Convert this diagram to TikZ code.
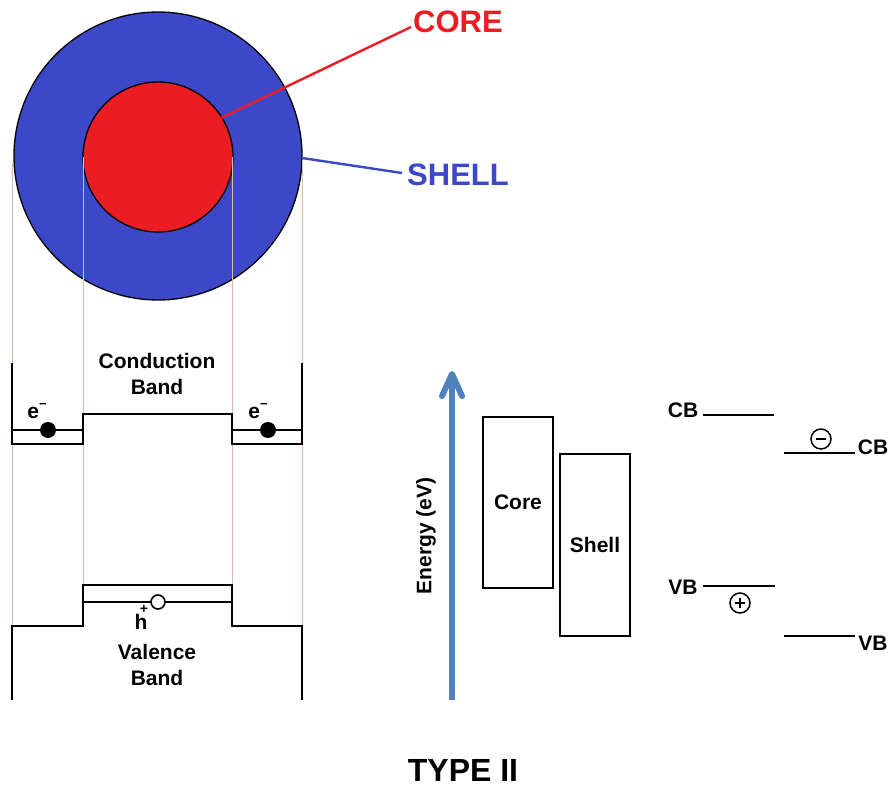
\documentclass[tikz,border=0pt]{standalone}
\usepackage{fontspec}
\setmainfont{Liberation Sans}
\definecolor{shellblue}{HTML}{3C48C8}
\definecolor{corered}{HTML}{EC1C24}
\definecolor{guide}{HTML}{E2BBA8}
\definecolor{arrowblue}{HTML}{4F81BD}
\tikzset{
  lbl/.style={font=\fontsize{21}{26}\selectfont\bfseries, inner sep=0pt, align=center},
  sup/.style={font=\fontsize{14}{14}\selectfont\bfseries, inner sep=0pt},
  biglbl/.style={font=\fontsize{31}{36}\selectfont\bfseries, inner sep=0pt},
  band/.style={line width=2.2pt, black, line join=miter},
  guideline/.style={guide, line width=0.8pt},
  level/.style={line width=1.8pt, black},
  bandbox/.style={draw=black, line width=1.6pt, minimum width=70pt, inner sep=0pt, font=\fontsize{21}{26}\selectfont\bfseries},
  electron/.style={circle, fill=black, minimum size=16pt, inner sep=0pt},
  hole/.style={circle, draw=black, fill=white, line width=1.6pt, minimum size=14pt, inner sep=0pt},
  carrier/.style={circle, draw=black, line width=1.5pt, minimum size=20pt, inner sep=0pt},
}
\begin{document}
\begin{tikzpicture}[x=1pt,y=-1pt]
\useasboundingbox (0,0) rectangle (891,789);
% particle
\fill[shellblue, draw=black, line width=1.3pt] (158,156) circle (144);
\fill[corered, draw=black, line width=1.3pt] (158,157) circle (75);
% guide lines
\foreach \gx/\gy/\gz in {12/163/626, 83/157/585, 232/157/585, 302/160/626}
  \draw[guideline] (\gx,\gy) -- (\gx,\gz);
% labels of particle
\node[biglbl, text=corered, anchor=west] (corelbl) at (413,22) {CORE};
\node[biglbl, text=shellblue, anchor=west] (shelllbl) at (407,175) {SHELL};
\coordinate (coreend) at (221,118);
\coordinate (shellend) at (302,158);
\draw[corered, line width=2.4pt] (corelbl.west) ++(-2,5) -- (coreend);
\draw[shellblue, line width=2.4pt] (shelllbl.west) ++(-5,-2) -- (shellend);
% conduction band
\draw[band] (12,363) -- (12,444) -- (83,444) -- (83,414) -- (232,414) -- (232,444) -- (302,444) -- (302,363);
\draw[band] (12,430) -- (83,430);
\draw[band] (232,430) -- (302,430);
\node[lbl] (cbtext) at (157,374) {Conduction\\Band};
\node[electron] (e1) at (48,430) {};
\node[electron] (e2) at (268,430) {};
\node[lbl] (e1l) at (37,411) {e\raisebox{0.45em}{\fontsize{13}{13}\selectfont −}};
\node[lbl] (e2l) at (258,411) {e\raisebox{0.45em}{\fontsize{13}{13}\selectfont −}};
% valence band
\draw[band] (12,700) -- (12,626) -- (83,626) -- (83,585) -- (232,585) -- (232,626) -- (302,626) -- (302,700);
\draw[band] (83,602) -- (232,602);
\node[hole] (h) at (158,602) {};
\node[lbl] (hl) at (141,622) {h};
\node[sup, anchor=south] (hplus) at ([xshift=3pt]hl.north) {+};
\node[lbl] (vbtext) at (157,665) {Valence\\Band};
% energy axis
\coordinate (axisbot) at (452,700);
\coordinate (axistop) at (452,374);
\draw[arrowblue, line width=6pt] (axisbot) -- (axistop);
\draw[arrowblue, line width=6pt, line cap=round, line join=round] (442,396) -- (axistop) -- (462,396);
\node[lbl, rotate=90] (energy) at (426,536) {Energy (eV)};
% core / shell boxes
\node[bandbox, minimum height=171pt] (corebox) at (518,502.5) {Core};
\node[bandbox, minimum height=182pt] (shellbox) at (595,545) {Shell};
% level diagram
\node[lbl] (cb1) at (683,410) {CB};
\coordinate (cb1a) at (703,415);
\coordinate (cb1b) at (774,415);
\draw[level] (cb1a) -- (cb1b);
\coordinate (cb2a) at (784,453);
\coordinate (cb2b) at (855,453);
\draw[level] (cb2a) -- (cb2b);
\node[lbl] (cb2) at (873,447) {CB};
\node[carrier] (minus) at (821,439) {};
\draw[line width=1.8pt] (minus.center) ++(-5,0) -- ++(10,0);
\node[lbl] (vb1) at (683,587) {VB};
\coordinate (vb1a) at (703,586);
\coordinate (vb1b) at (775,586);
\draw[level] (vb1a) -- (vb1b);
\node[carrier] (plus) at (740,603) {};
\draw[line width=1.8pt] (plus.center) ++(-5,0) -- ++(10,0) (plus.center) ++(0,-5) -- ++(0,10);
\coordinate (vb2a) at (784,636);
\coordinate (vb2b) at (855,636);
\draw[level] (vb2a) -- (vb2b);
\node[lbl] (vb2) at (873,643) {VB};
% title
\node[font=\fontsize{32}{36}\selectfont\bfseries, inner sep=0pt] (title) at (463,770) {TYPE II};
\end{tikzpicture}
\end{document}
